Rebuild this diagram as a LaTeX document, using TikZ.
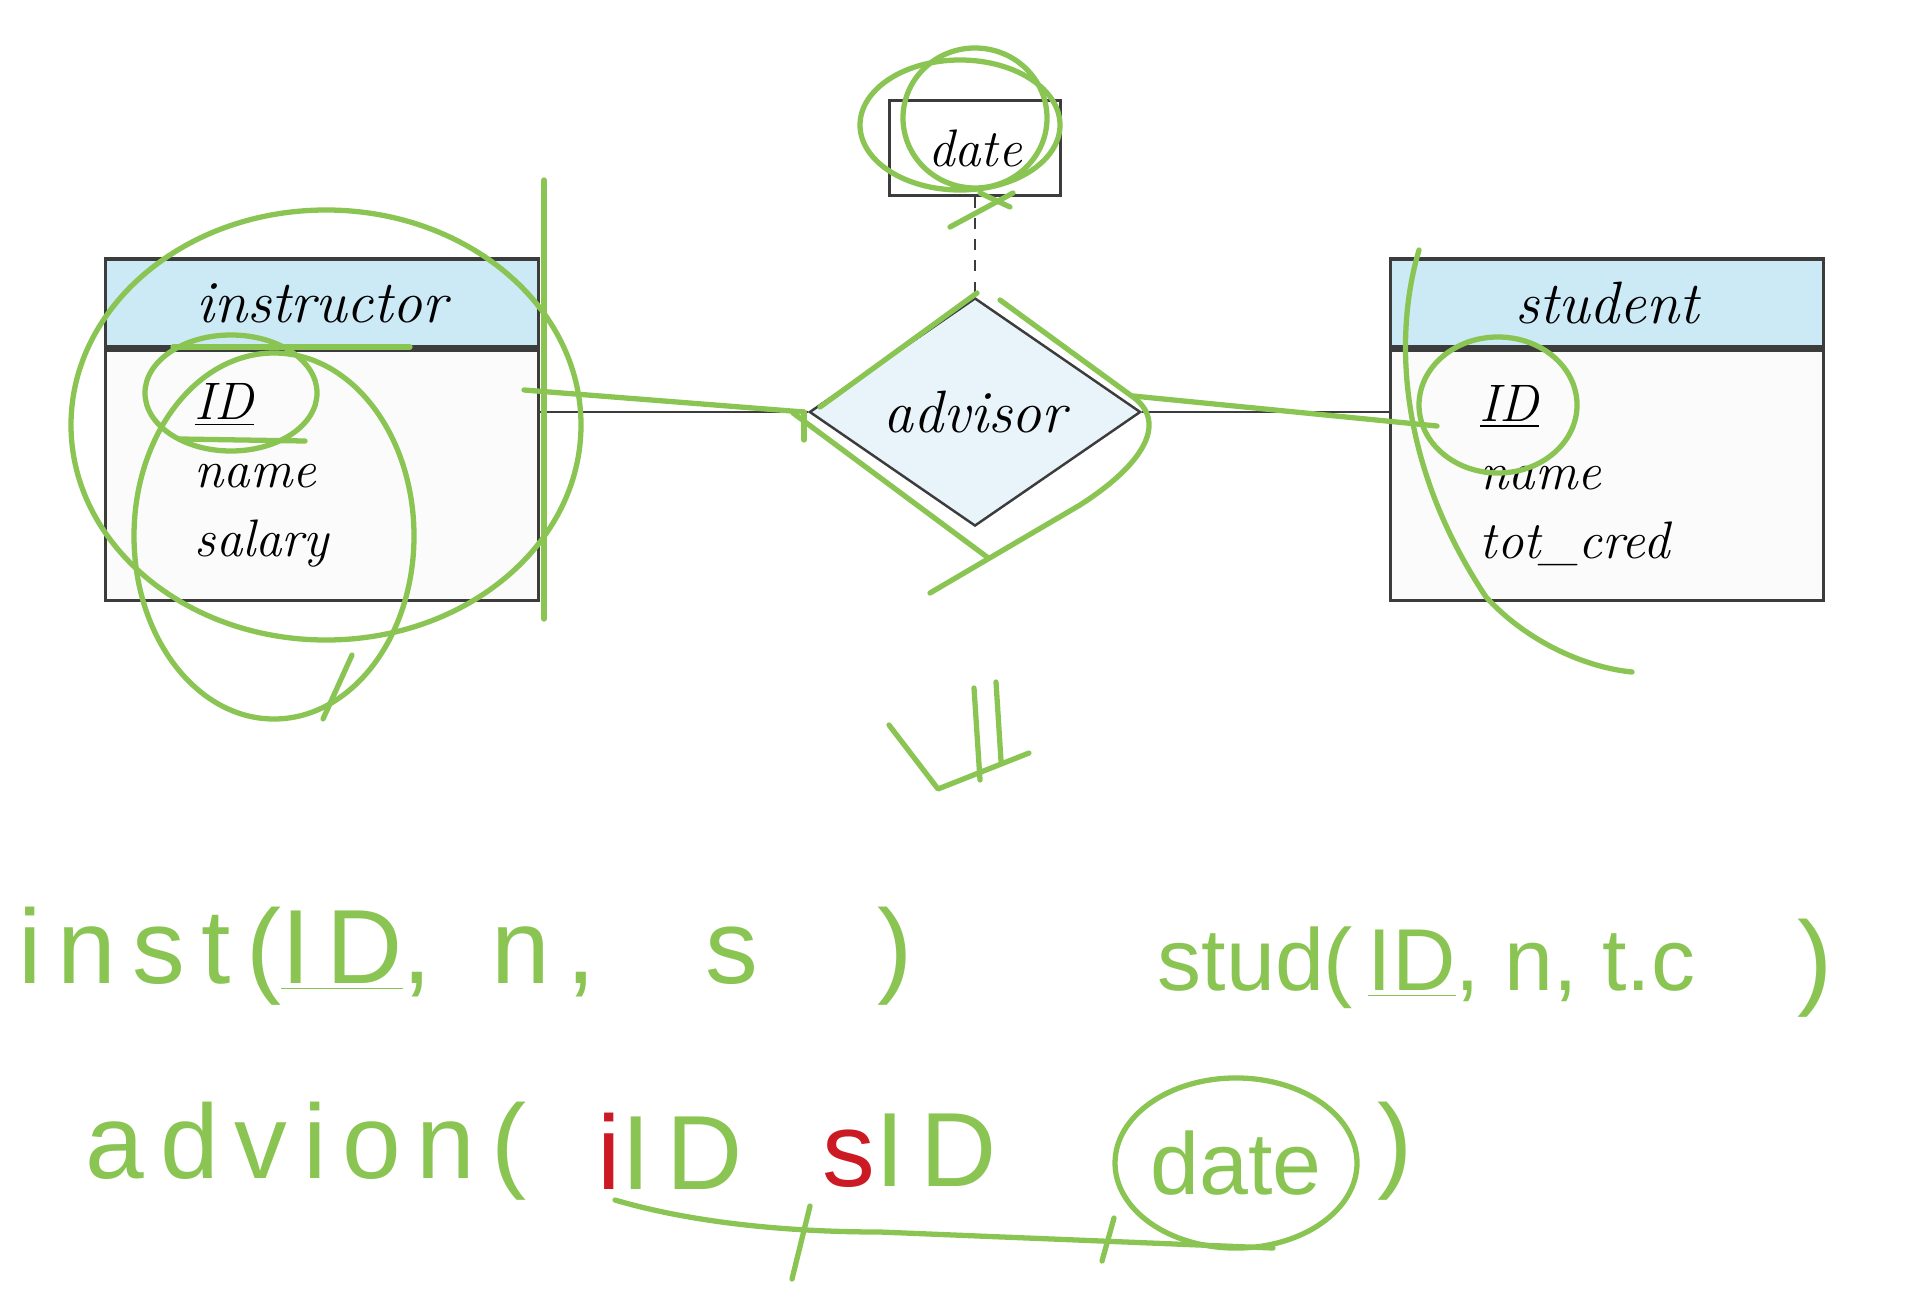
\documentclass[tikz,border=0pt]{standalone}
\usepackage{fontspec}
\usetikzlibrary{shapes.geometric}
\newfontfamily\handfont[LetterSpace=15]{Liberation Sans}
\newfontfamily\handtight{Liberation Sans}
\definecolor{hdrblue}{RGB}{204,233,246}
\definecolor{relblue}{RGB}{232,244,250}
\definecolor{penline}{RGB}{60,60,60}
\definecolor{pengreen}{RGB}{138,196,82}
\definecolor{penred}{RGB}{204,26,36}

\begin{document}
\begin{tikzpicture}[x=0.01cm,y=-0.01cm,
  entityhead/.style={draw=penline, fill=hdrblue, line width=0.9pt, minimum width=4.32cm, minimum height=0.88cm, inner sep=0pt, font=\fontsize{17}{20}\selectfont\itshape},
  entitybody/.style={draw=penline, fill=gray!3, line width=0.9pt, minimum width=4.32cm, minimum height=2.5cm, inner xsep=0.89cm, inner ysep=0pt, text width=2.54cm, align=left, font=\fontsize{15}{19.5}\selectfont\itshape},
  relship/.style={diamond, draw=penline, fill=relblue, line width=0.7pt, aspect=1.45, minimum width=3.31cm, minimum height=2.28cm, inner sep=0pt, font=\fontsize{17}{20}\selectfont\itshape},
  attrbox/.style={draw=penline, line width=0.9pt, minimum width=1.71cm, minimum height=0.95cm, inner sep=0pt, font=\fontsize{15}{18}\selectfont\itshape},
  relline/.style={draw=penline, line width=0.8pt},
  pen/.style={draw=pengreen, line width=1.5pt, line cap=round, line join=round},
  hand/.style={text=pengreen, inner sep=0pt, font=\fontsize{30}{34}\handfont},
  handsmall/.style={text=pengreen, inner sep=0pt, font=\fontsize{25}{30}\handtight}]
\useasboundingbox (0,0) rectangle (1910,1291);

% entities
\node[entityhead] (instr) at (322,303) {instructor};
\node[entitybody, anchor=north] (instrattr) at (instr.south) {\underline{ID}\\name\\salary};
\node[entityhead] (stud) at (1607,303) {student};
\node[entitybody, anchor=north] (studattr) at (stud.south) {\underline{ID}\\name\\tot\_cred};

% relationship and its attribute
\node[relship] (advisor) at (975,412) {advisor};
\node[attrbox] (date) at (975,148) {date};
\draw[relline] (advisor.west) -- (advisor.west -| instrattr.east);
\draw[relline] (advisor.east) -- (advisor.east -| studattr.west);
\draw[relline, dashed] (date) -- (advisor);

% pen strokes over the diagram
\draw[pen] (326,425) ellipse (255 and 215);
\draw[pen] (274,536) ellipse (140 and 183);
\draw[pen] (231,393) ellipse (86 and 58);
\draw[pen] (180,439) -- (305,441);
\draw[pen] (173,347) -- (410,347);
\draw[pen] (544,180) -- (544,619);
\draw[pen] (323,719) -- (352,655);
\draw[pen] (524,390) -- (804,412);
\draw[pen] (804,412) -- (804,440);
\draw[pen] (820,407) -- (977,293);
\draw[pen] (793,413) -- (987,557);
\draw[pen] (1000,300) -- (1133,397) .. controls (1165,420) and (1150,460) .. (1080,505) -- (930,593);
\draw[pen] (1133,396) -- (1437,426);
\draw[pen] (960,125) ellipse (100 and 65);
\draw[pen] (975,118) ellipse (72 and 70);
\draw[pen] (950,227) -- (1013,193);
\draw[pen] (980,193) -- (1010,207);
\draw[pen] (1498,405) ellipse (79 and 68);
\draw[pen] (1419,250) .. controls (1395,330) and (1395,460) .. (1486,597) .. controls (1530,645) and (1590,668) .. (1632,672);
% the arrow down
\draw[pen] (974,688) -- (980,780);
\draw[pen] (996,682) -- (1001,761);
\draw[pen] (889,725) -- (938,789) -- (1029,753);

% relations written by hand
\node[hand, anchor=west] (hinst) at (18,956) {inst(\underline{ID},\hspace{0.6cm}n,\hspace{1.1cm}s};
\node[hand] (hinstend) at (895,956) {)};
\node[handsmall, anchor=west] (hstud) at (1157,968) {stud(\,\underline{ID}, n, t.c};
\node[hand] (hstudend) at (1815,968) {)};
\node[hand, anchor=west] (hadv) at (85,1151) {advion(};
\node[hand] (hiid) at (670,1151) {{\color{penred}i}ID};
\node[hand] (hsid) at (910,1151) {{\color{penred}s}ID};
\node[handsmall, draw=pengreen, line width=1.5pt, ellipse, inner sep=0pt, minimum width=1.94cm, minimum height=1.7cm] (hdate) at (1236,1163) {date};
\node[hand] (hadvend) at (1395,1151) {)};
\draw[pen] (615,1200) .. controls (700,1225) and (800,1232) .. (880,1232) -- (1273,1248);
\draw[pen] (792,1279) -- (810,1206);
\draw[pen] (1102,1261) -- (1114,1218);
\end{tikzpicture}
\end{document}
